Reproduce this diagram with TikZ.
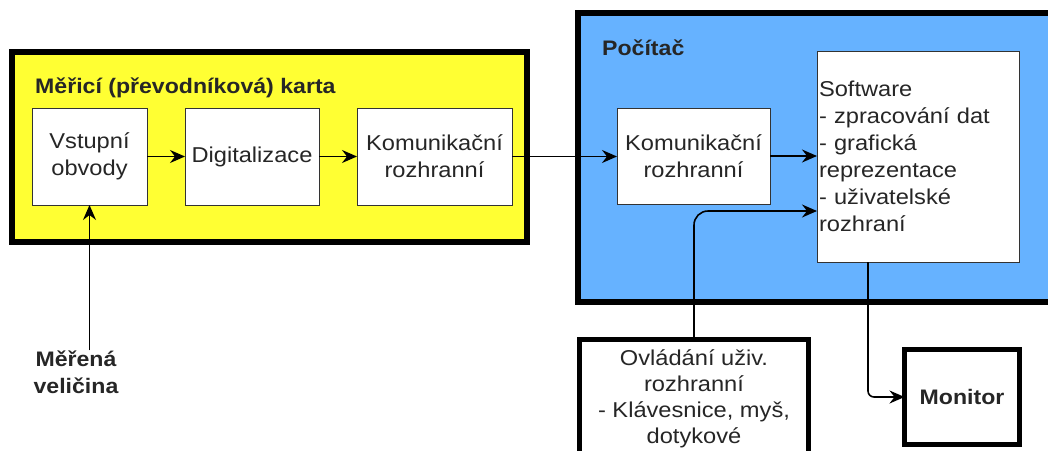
\documentclass[tikz,border=0pt]{standalone}
\usepackage{fontspec}
\setmainfont{Liberation Sans}[FakeStretch=1.1]
\usetikzlibrary{arrows.meta,calc}
\definecolor{cardyellow}{RGB}{255,255,51}
\definecolor{pcblue}{RGB}{102,178,255}
\begin{document}
\begin{tikzpicture}[x=1pt,y=-1pt,
  every node/.style={font=\fontsize{21.5}{27}\selectfont, text=black!85},
  titletext/.style={font=\fontsize{21}{27}\selectfont\bfseries, inner sep=0pt},
  outerbox/.style={draw=black, line width=6pt, inner sep=0pt, outer sep=0pt},
  innerbox/.style={draw=black!80, line width=1pt, fill=white, align=center, inner sep=0pt, outer sep=0pt},
  heavybox/.style={draw=black, line width=5pt, fill=white, align=center, inner sep=0pt, outer sep=0pt},
  arr/.style={draw=black, line width=1.6pt, -{Stealth[length=15pt,width=13pt,inset=5pt]}}
]
\clip (0,0) rectangle (1048,450);

% containers
\node[outerbox, fill=cardyellow, minimum width=515pt, minimum height=190pt] (card) at (269.5,146.5) {};
\node[outerbox, fill=pcblue, minimum width=492pt, minimum height=288.5pt] (pc) at (824,157.25) {};

\node[titletext, anchor=base west] (cardlbl) at (35,93) {Měřicí (převodníková) karta};
\node[titletext, anchor=base west] (pclbl) at (602,55) {Počítač};

% inner blocks
\node[innerbox, minimum width=115pt, minimum height=97pt] (vst) at (89.5,156.5) {Vstupní\\obvody};
\node[innerbox, minimum width=134pt, minimum height=97pt] (dig) at (252,156.5) {Digitalizace};
\node[innerbox, minimum width=155pt, minimum height=97pt] (kl) at (434.5,156.5) {Komunikační\\rozhranní};
\node[innerbox, minimum width=153pt, minimum height=96pt] (kr) at (693.5,156) {Komunikační\\rozhranní};
\node[innerbox, text width=198pt, align=left, inner xsep=2pt, minimum height=211pt] (sw) at (918,156.5)
  {Software\\- zpracování dat\\- grafická\\reprezentace\\- uživatelské\\rozhraní};

% outside blocks
\node[heavybox, minimum width=115pt, minimum height=95pt, font=\fontsize{21}{27}\selectfont\bfseries] (mon) at (962,397) {Monitor};
\node[heavybox, minimum width=229pt, minimum height=119pt, font=\fontsize{21.5}{26}\selectfont] (ov) at (694,399)
  {Ovládání uživ.\\rozhranní\\- Klávesnice, myš,\\dotykové};
\node[titletext, align=center] (mv) at (76,372) {Měřená\\veličina};

% connectors
\draw[arr] (vst.east) -- (dig.west);
\draw[arr] (dig.east) -- (kl.west);
\draw[arr] (kl.east) -- (kl.east -| kr.west);
\draw[arr] (kr.east) -- (kr.east -| sw.west);
\draw[arr, rounded corners=14pt] (ov.north) |- ($(sw.west)+(0,54.5)$);
\draw[arr, rounded corners=6pt] ($(sw.south)+(-50,0)$) |- (mon.west);
\draw[arr] (vst.south |- mv.north) -- (vst.south);
\end{tikzpicture}
\end{document}
